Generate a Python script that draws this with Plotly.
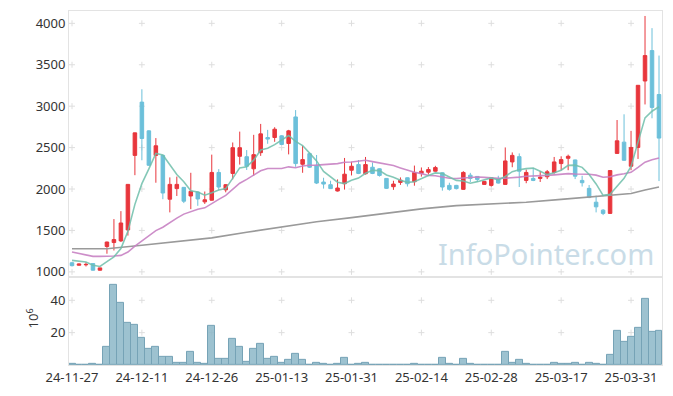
import pandas as pd
import plotly.graph_objects as go

# ---------------- data ----------------
holidays = ["2024-12-25", "2024-12-31", "2025-01-01", "2025-01-27", "2025-01-28",
            "2025-01-29", "2025-01-30", "2025-03-03"]
days = [d.strftime("%Y-%m-%d") for d in pd.bdate_range("2024-11-27", "2025-04-04")
        if d.strftime("%Y-%m-%d") not in holidays]

tick_labels = ["24-11-27", "24-12-11", "24-12-26", "25-01-13", "25-01-31",
               "25-02-14", "25-02-28", "25-03-17", "25-03-31"]

opens = [1110, 1080, 1085, 1100, 1020, 1306, 1354, 1374, 1506, 2406,
         3049, 2702, 2406, 2406, 1877, 2005, 2020, 1916, 1964, 1845,
         1865, 2200, 1990, 2188, 2395, 2390, 2244, 2439, 2622, 2622,
         2642, 2550, 2870, 2299, 2427, 2287, 2084, 2052, 1976, 2064,
         2227, 2295, 2184, 2263, 2244, 2128, 2028, 2080, 2136, 2088,
         2188, 2203, 2215, 2196, 2044, 2044, 1996, 2167, 2152, 2056,
         2044, 2120, 2056, 2327, 2391, 2104, 2128, 2128, 2148, 2200,
         2307, 2371, 2351, 2104, 2008, 1841, 1745, 1706, 2430, 2566,
         2275, 2502, 3304, 3671, 3141]
highs = [1120, 1100, 1115, 1105, 1050, 1365, 1637, 1733, 2060, 2680,
         3204, 2710, 2615, 2410, 2140, 2150, 2025, 2196, 1968, 1970,
         2415, 2240, 2060, 2562, 2693, 2470, 2654, 2786, 2714, 2746,
         2650, 2714, 2953, 2522, 2440, 2411, 2136, 2100, 2116, 2375,
         2330, 2350, 2387, 2320, 2250, 2132, 2100, 2140, 2140, 2283,
         2260, 2265, 2280, 2200, 2076, 2050, 2215, 2195, 2155, 2095,
         2140, 2160, 2502, 2442, 2430, 2235, 2255, 2215, 2230, 2387,
         2395, 2415, 2355, 2160, 2048, 1920, 1757, 2223, 2833, 2902,
         2702, 3252, 4089, 3942, 3611]
lows = [1065, 1075, 1065, 1015, 1015, 1219, 1258, 1360, 1438, 2167,
        2347, 2280, 2076, 1877, 1718, 1916, 1830, 1757, 1797, 1820,
        1860, 1990, 1960, 2116, 2295, 2230, 2160, 2400, 2546, 2570,
        2530, 2418, 2268, 2196, 2255, 2060, 2005, 2000, 1970, 1993,
        2164, 2180, 2175, 2180, 2150, 2000, 1990, 2050, 2030, 2040,
        2150, 2175, 2210, 1980, 1980, 1995, 1990, 2085, 2085, 2050,
        2030, 2065, 2050, 2263, 2024, 2070, 2095, 2085, 2120, 2185,
        2227, 2227, 2120, 2030, 1890, 1718, 1685, 1700, 2425, 2340,
        2227, 2363, 3021, 2854, 2096]
closes = [1075, 1095, 1090, 1020, 1048, 1360, 1390, 1590, 2056, 2678,
          2610, 2287, 2522, 1952, 2056, 2056, 1853, 1972, 1880, 1870,
          2200, 2024, 2052, 2499, 2499, 2275, 2415, 2666, 2603, 2722,
          2538, 2702, 2307, 2355, 2263, 2072, 2060, 2005, 2012, 2179,
          2275, 2188, 2295, 2188, 2164, 2008, 2060, 2107, 2064, 2200,
          2215, 2235, 2259, 2024, 1996, 2005, 2200, 2128, 2116, 2092,
          2136, 2072, 2339, 2406, 2215, 2200, 2104, 2143, 2208, 2327,
          2355, 2395, 2155, 2076, 1897, 1785, 1706, 2223, 2582, 2347,
          2502, 3252, 3611, 2985, 2615]

volume_m = [0.6, 0.1, 0.4, 1.0, 0.4, 11.4, 49.4, 38.4, 26.1, 24.7,
            16.9, 10.2, 11.4, 5.3, 5.3, 1.6, 1.6, 8.4, 1.6, 1.0,
            24.3, 4.1, 4.1, 16.3, 11.4, 2.2, 10.2, 13.3, 3.5, 5.3,
            1.6, 2.9, 7.1, 2.9, 0.4, 1.6, 1.0, 0.4, 1.0, 4.7,
            0.4, 1.0, 1.6, 0.4, 0.4, 0.4, 0.1, 0.4, 0.1, 1.0,
            0.4, 0.4, 0.4, 4.7, 1.0, 0.4, 4.1, 1.0, 0.4, 0.4,
            0.4, 0.1, 8.4, 1.6, 2.9, 1.0, 0.4, 0.4, 0.4, 1.6,
            1.0, 1.0, 1.6, 0.4, 1.6, 1.0, 0.4, 6.5, 21.2, 14.5,
            17.6, 23.1, 40.8, 20.6, 21.2]

# moving averages: first values (need earlier history)
ma5_head = [1139, 1130, 1120, 1079]
ma20_head = [1239, 1219, 1199, 1187, 1187, 1187, 1191, 1199, 1239, 1311,
             1371, 1431, 1498, 1538, 1598, 1649, 1697, 1729, 1757]
# long moving average read at sample days
ma_long_idx = [0, 5, 10, 15, 20, 25, 30, 35, 40, 45, 50, 55, 60, 65, 70, 75, 80, 82, 84]
ma_long_val = [1279, 1279, 1322, 1366, 1410, 1478, 1545, 1605, 1655, 1712,
               1760, 1800, 1820, 1840, 1875, 1908, 1945, 1988, 2024]

price_ticks = [1000, 1500, 2000, 2500, 3000, 3500, 4000]
vol_ticks = [20, 40]

# ---------------- derived ----------------
cs = pd.Series(closes)
ma5 = ma5_head + list(cs.rolling(5).mean().iloc[len(ma5_head):])
ma20 = ma20_head + list(cs.rolling(20).mean().iloc[len(ma20_head):])
tick_idx = list(range(0, len(days), 10))
tick_days = [days[i] for i in tick_idx]

RED = "#e8363c"
CYAN = "#6cc0da"
GRID = "#dedede"
FRAME = "#e3e3e3"
FONT = dict(family="Noto Sans", size=13, color="#333333")

fig = go.Figure()

fig.add_trace(go.Candlestick(
    x=days, open=opens, high=highs, low=lows, close=closes,
    increasing=dict(line=dict(color=RED, width=1), fillcolor=RED),
    decreasing=dict(line=dict(color=CYAN, width=1), fillcolor=CYAN),
    whiskerwidth=0, showlegend=False, xaxis="x", yaxis="y"))

fig.add_trace(go.Scatter(x=[days[i] for i in ma_long_idx], y=ma_long_val, mode="lines",
                         line=dict(color="#9a9a9a", width=1.6), showlegend=False,
                         xaxis="x", yaxis="y"))
fig.add_trace(go.Scatter(x=days, y=ma20, mode="lines",
                         line=dict(color="rgba(200,130,195,0.9)", width=1.6), showlegend=False,
                         xaxis="x", yaxis="y"))
fig.add_trace(go.Scatter(x=days, y=ma5, mode="lines",
                         line=dict(color="rgba(110,190,170,0.85)", width=1.6), showlegend=False,
                         xaxis="x", yaxis="y"))

fig.add_trace(go.Bar(x=days, y=volume_m, showlegend=False,
                     marker=dict(color="rgba(140,183,200,0.85)",
                                 line=dict(color="#76a3b6", width=1)),
                     xaxis="x2", yaxis="y2"))

# small grid crosses drawn beneath the data (pixel-sized, anchored at tick positions)
shapes = []
for xr, yr, vals in (("x", "y", price_ticks), ("x2", "y2", vol_ticks)):
    for xi in tick_idx:
        for v in vals:
            shapes.append(dict(type="line", layer="below", xref=xr, yref=yr,
                               xsizemode="pixel", xanchor=xi, x0=-3, x1=3, y0=v, y1=v,
                               line=dict(color=GRID, width=1)))
            shapes.append(dict(type="line", layer="below", xref=xr, yref=yr,
                               ysizemode="pixel", yanchor=v, y0=-3, y1=3, x0=xi, x1=xi,
                               line=dict(color=GRID, width=1)))

axis_common = dict(showgrid=False, zeroline=False, showline=True, mirror=True,
                   linecolor=FRAME, linewidth=1, ticks="", tickfont=FONT)

fig.update_layout(
    width=673, height=396,
    margin=dict(l=69, r=10, t=10, b=29),
    paper_bgcolor="white", plot_bgcolor="white",
    bargap=0, boxgap=0.28,
    shapes=shapes,
    xaxis=dict(type="category", categoryorder="array", categoryarray=days,
               range=[-0.43, 84.43], anchor="y", domain=[0, 1],
               showticklabels=False, rangeslider=dict(visible=False), **axis_common),
    yaxis=dict(domain=[0.25, 1], range=[944, 4149], tickvals=price_ticks,
               anchor="x", **axis_common),
    xaxis2=dict(type="category", categoryorder="array", categoryarray=days,
                range=[-0.43, 84.43], anchor="y2", domain=[0, 1], matches="x",
                tickvals=tick_days, ticktext=tick_labels, **axis_common),
    yaxis2=dict(domain=[0, 0.249], range=[0, 54.5], tickvals=vol_ticks,
                anchor="x2", **axis_common),
    annotations=[
        dict(text="InfoPointer.com", xref="paper", yref="paper", x=0.99, y=0.3137,
             xanchor="right", yanchor="middle", showarrow=False,
             font=dict(family="Noto Sans", size=29, color="#c9dce7")),
        dict(text="10<sup>6</sup>", xref="paper", yref="paper", x=-0.0623, y=0.1317,
             xanchor="center", yanchor="middle", showarrow=False, textangle=-90,
             font=FONT),
    ],
)

fig.write_html("out.html", config={"displayModeBar": False},
               post_script="document.body.style.margin='0';document.body.style.padding='0';")
